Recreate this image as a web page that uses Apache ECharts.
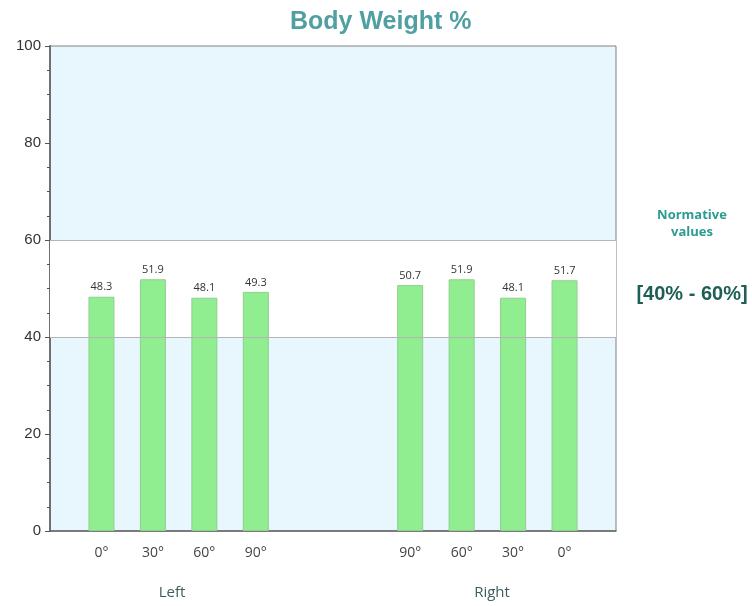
<!DOCTYPE html>
<html>
<head>
<meta charset="utf-8">
<script src="https://cdn.jsdelivr.net/npm/echarts@6/dist/echarts.min.js"></script>
<style>
  html, body { margin: 0; padding: 0; background: #fff; }
  #chart { width: 752px; height: 606px; }
</style>
</head>
<body>
<div id="chart"></div>
<script>
const leftAngles = ['0°', '30°', '60°', '90°']
const leftValues = [48.3, 51.9, 48.1, 49.3]
const rightAngles = ['90°', '60°', '30°', '0°']
const rightValues = [50.7, 51.9, 48.1, 51.7]
const yTicks = [0, 20, 40, 60, 80, 100]
const normRange = [40, 60]

// one empty slot at each end, two between the groups
const categories = [''].concat(leftAngles, ['', ''], rightAngles, [''])
const values = [null].concat(leftValues, [null, null], rightValues, [null])

const chart = echarts.init(document.getElementById('chart'), null, { renderer: 'canvas' })

function centredText(text, x, y, font, fill, lineHeight) {
  return {
    type: 'text', x: x, y: y,
    style: { text: text, align: 'center', verticalAlign: 'middle', fill: fill, font: font, lineHeight: lineHeight }
  }
}

chart.setOption({
  animation: false,
  title: {
    text: 'Body Weight %',
    left: 285,
    top: 5,
    textStyle: { color: '#4f9fa3', fontSize: 25, fontWeight: 'bold', fontFamily: 'Liberation Sans, Arial' }
  },
  grid: {
    left: 50, right: 136, top: 46, bottom: 75,
    show: true,
    backgroundColor: '#e8f6fe',
    borderColor: '#808080',
    borderWidth: 1
  },
  xAxis: {
    type: 'category',
    data: categories,
    boundaryGap: false,
    axisLine: { lineStyle: { color: '#666', width: 1.5 } },
    axisTick: { show: false },
    axisLabel: {
      interval: 0,
      color: '#444',
      fontSize: 14,
      margin: 15,
      fontFamily: 'Open Sans'
    }
  },
  yAxis: {
    type: 'value',
    min: yTicks[0],
    max: yTicks[yTicks.length - 1],
    interval: 20,
    axisLine: { show: true, lineStyle: { color: '#707070', width: 2 } },
    axisTick: { show: true, length: 5, lineStyle: { color: '#555' } },
    minorTick: { show: true, splitNumber: 4, length: 3, lineStyle: { color: '#555' } },
    splitLine: { show: false },
    axisLabel: { color: '#333', fontSize: 15, margin: 9, fontFamily: 'Liberation Sans, Arial' }
  },
  series: [{
    type: 'bar',
    data: values,
    barWidth: 26,
    itemStyle: { color: '#90ee90', borderColor: '#8fcf8f', borderWidth: 1 },
    label: {
      show: true,
      position: 'top',
      distance: 4,
      color: '#333',
      fontSize: 11,
      fontFamily: 'Open Sans'
    },
    markArea: {
      silent: true,
      itemStyle: { color: '#ffffff' },
      data: [[{ yAxis: normRange[0] }, { yAxis: normRange[1] }]]
    },
    markLine: {
      silent: true,
      symbol: 'none',
      label: { show: false },
      lineStyle: { color: '#b5b5b5', type: 'solid', width: 1 },
      data: normRange.map(v => ({ yAxis: v }))
    },
    z: 3
  }],
  graphic: [
    centredText('Left', 172, 593, '15px "Open Sans"', '#3e5c5c'),
    centredText('Right', 492, 593, '15px "Open Sans"', '#3e5c5c'),
    centredText('Normative\nvalues', 692, 224, 'bold 13px "Open Sans"', '#2a9d8f', 17),
    centredText('[40% - 60%]', 692, 294, 'bold 20px "Liberation Sans", Arial', '#1d5e55')
  ]
})
</script>
</body>
</html>
